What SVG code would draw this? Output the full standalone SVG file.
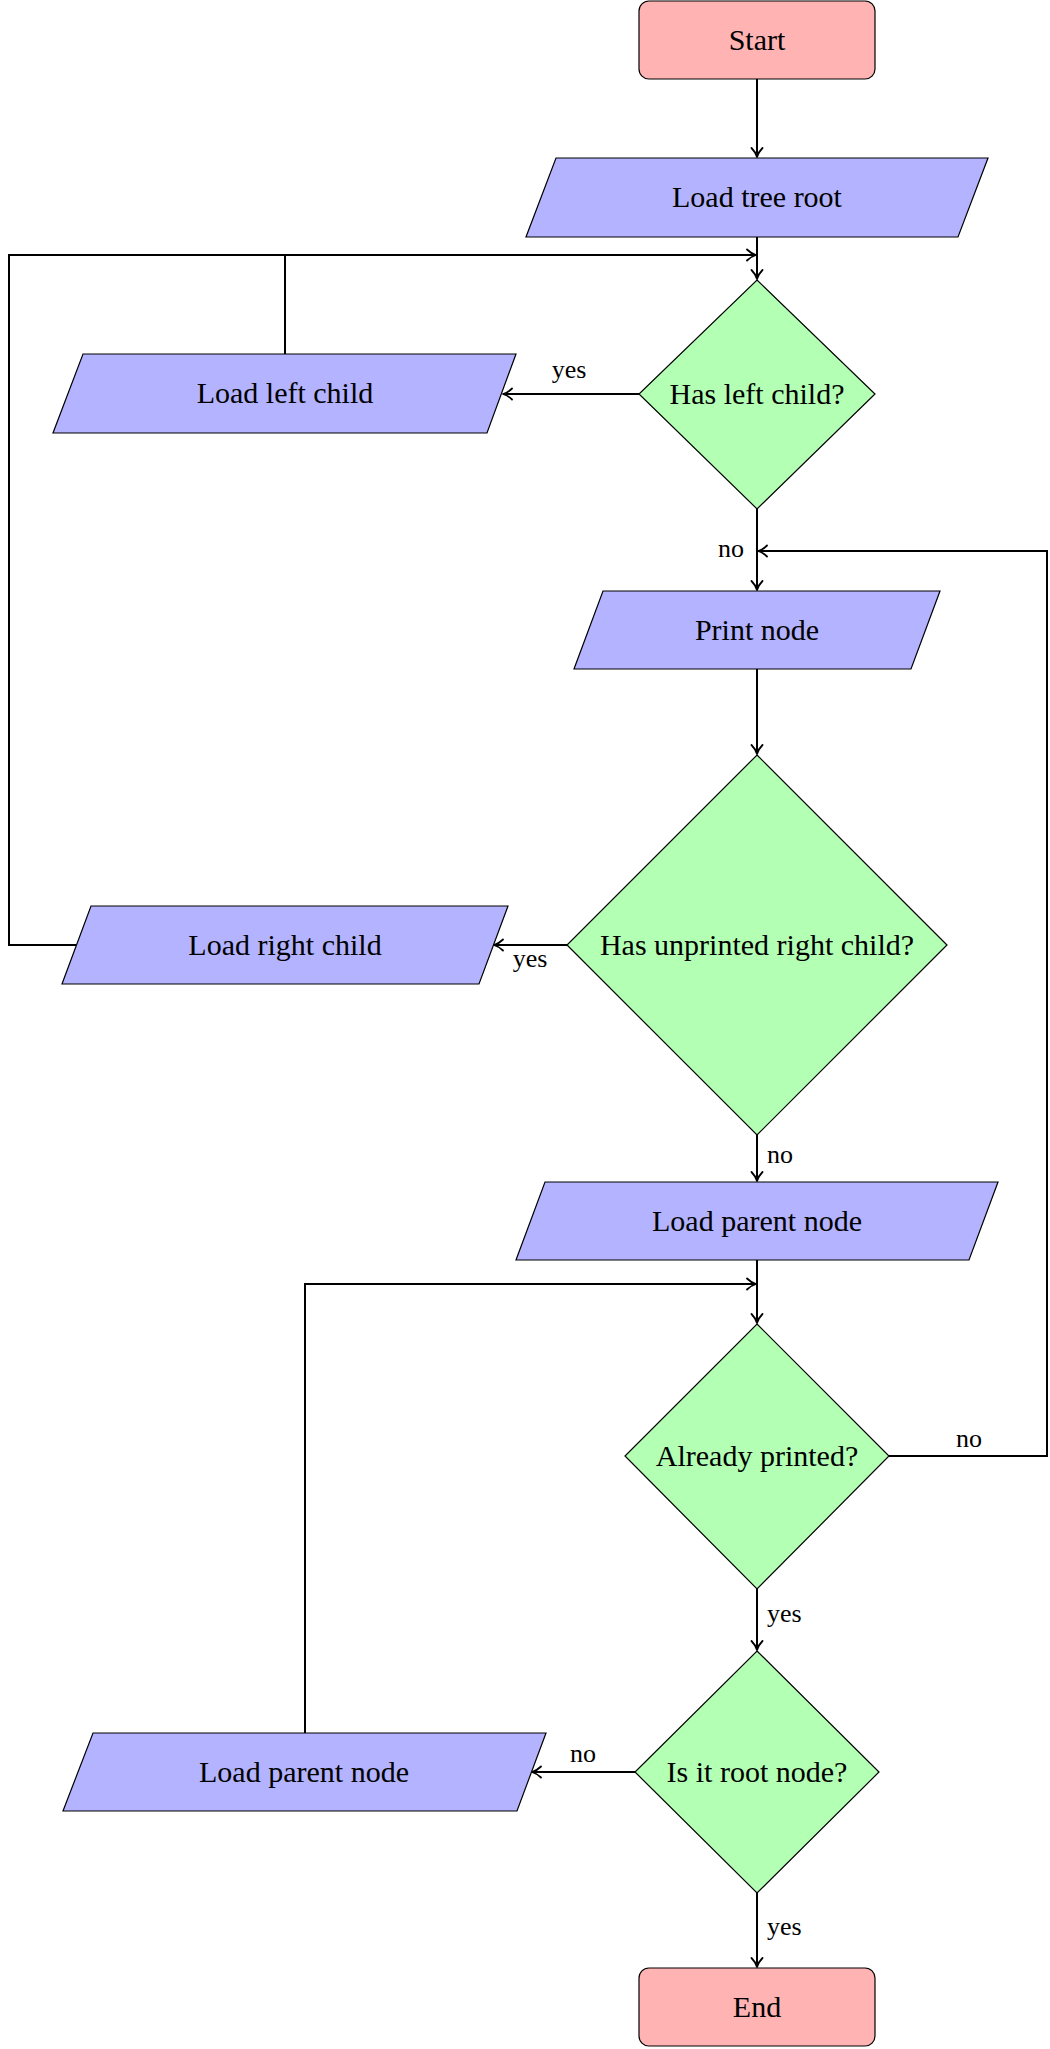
<svg xmlns="http://www.w3.org/2000/svg" width="1050" height="2049" viewBox="0 0 1050 2049">
<defs>
<marker id="arr" markerUnits="userSpaceOnUse" markerWidth="16" markerHeight="16" refX="0" refY="0" viewBox="-12 -8 14 16" orient="auto" overflow="visible">
<path d="M -9,-5.5 C -6,-2.5 -2,-0.6 0,0 C -2,0.6 -6,2.5 -9,5.5" fill="none" stroke="#000" stroke-width="1.8" stroke-linecap="round" stroke-linejoin="round"/>
</marker>
<style>
.term{fill:#ffb3b3;stroke:#000;stroke-width:1.2}
.io{fill:#b3b3ff;stroke:#000;stroke-width:1.2}
.dec{fill:#b3ffb3;stroke:#000;stroke-width:1.2}
.t{font-family:"Liberation Serif","DejaVu Serif",serif;font-size:30px;fill:#000;text-anchor:middle}
.l{font-family:"Liberation Serif","DejaVu Serif",serif;font-size:26px;fill:#000}
.c{fill:none;stroke:#000;stroke-width:2}
.a{marker-end:url(#arr)}
</style>
</defs>
<rect width="1050" height="2049" fill="#fff"/>
<g id="connectors">
<line class="c a" x1="757" y1="79" x2="757" y2="157"/>
<line class="c a" x1="757" y1="237" x2="757" y2="279"/>
<polyline class="c" points="285,354 285,255"/>
<polyline class="c a" points="76,945 9,945 9,255 756,255"/>
<line class="c a" x1="639" y1="394" x2="503" y2="394"/>
<line class="c a" x1="757" y1="509" x2="757" y2="590"/>
<polyline class="c a" points="889,1456 1047,1456 1047,551 758,551"/>
<line class="c a" x1="757" y1="669" x2="757" y2="754"/>
<line class="c a" x1="567" y1="945" x2="494" y2="945"/>
<line class="c a" x1="757" y1="1135" x2="757" y2="1181"/>
<line class="c a" x1="757" y1="1260" x2="757" y2="1323"/>
<polyline class="c a" points="305,1733 305,1284 756,1284"/>
<line class="c a" x1="757" y1="1589" x2="757" y2="1650"/>
<line class="c a" x1="636" y1="1772" x2="532" y2="1772"/>
<line class="c a" x1="757" y1="1893" x2="757" y2="1967"/>
</g>
<g id="labels">
<text class="l" x="569" y="378" text-anchor="middle">yes</text>
<text class="l" x="744" y="557" text-anchor="end">no</text>
<text class="l" x="530" y="967" text-anchor="middle">yes</text>
<text class="l" x="767" y="1163">no</text>
<text class="l" x="969" y="1447" text-anchor="middle">no</text>
<text class="l" x="767" y="1622">yes</text>
<text class="l" x="583" y="1762" text-anchor="middle">no</text>
<text class="l" x="767" y="1935">yes</text>
</g>
<g id="start">
<rect class="term" x="639" y="1" width="236" height="78" rx="10"/>
<text class="t" x="757" y="50">Start</text>
</g>
<g id="load-tree-root">
<polygon class="io" points="556,158 988,158 958,237 526,237"/>
<text class="t" x="757" y="207">Load tree root</text>
</g>
<g id="has-left-child">
<polygon class="dec" points="757,280 875,394 757,509 639,394"/>
<text class="t" x="757" y="404">Has left child?</text>
</g>
<g id="load-left-child">
<polygon class="io" points="83,354 516,354 487,433 53,433"/>
<text class="t" x="285" y="403">Load left child</text>
</g>
<g id="print-node">
<polygon class="io" points="603,591 940,591 911,669 574,669"/>
<text class="t" x="757" y="640">Print node</text>
</g>
<g id="has-right-child">
<polygon class="dec" points="757,755 947,945 757,1135 567,945"/>
<text class="t" x="757" y="955">Has unprinted right child?</text>
</g>
<g id="load-right-child">
<polygon class="io" points="91,906 508,906 479,984 62,984"/>
<text class="t" x="285" y="955">Load right child</text>
</g>
<g id="load-parent-node">
<polygon class="io" points="545,1182 998,1182 969,1260 516,1260"/>
<text class="t" x="757" y="1231">Load parent node</text>
</g>
<g id="already-printed">
<polygon class="dec" points="757,1324 889,1456 757,1589 625,1456"/>
<text class="t" x="757" y="1466">Already printed?</text>
</g>
<g id="is-root">
<polygon class="dec" points="757,1651 879,1772 757,1893 635,1772"/>
<text class="t" x="757" y="1782">Is it root node?</text>
</g>
<g id="load-parent-node-2">
<polygon class="io" points="93,1733 546,1733 517,1811 63,1811"/>
<text class="t" x="304" y="1782">Load parent node</text>
</g>
<g id="end">
<rect class="term" x="639" y="1968" width="236" height="78" rx="10"/>
<text class="t" x="757" y="2017">End</text>
</g>
</svg>
